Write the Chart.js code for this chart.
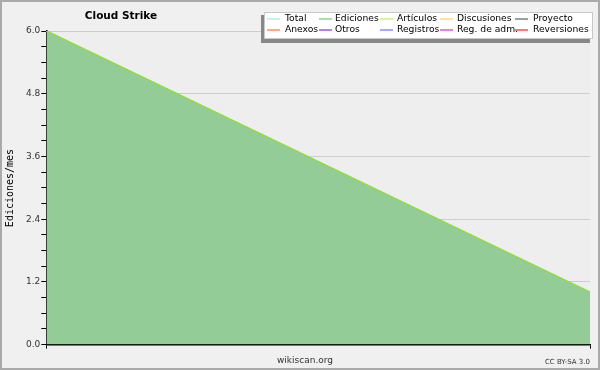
<!DOCTYPE html>
<html><head><meta charset="utf-8">
<script src="https://cdn.jsdelivr.net/npm/chart.js@4/dist/chart.umd.min.js"></script>
<style>html,body{margin:0;padding:0;background:#f0f0f0}#wrap{position:relative;width:600px;height:370px}</style>
</head><body><div id="wrap"><canvas id="c" width="600" height="370"></canvas></div>
<script>
const categories = ["2024-07", "2024-08"];
const edicionesValues = [6.0, 1.0];
const articulosValues = [6.0, 1.0];
const yTickLabels = [0.0, 1.2, 2.4, 3.6, 4.8, 6.0];
const legendNames = ["Total","Ediciones","Artículos","Discusiones","Proyecto","Anexos","Otros","Registros","Reg. de adm.","Reversiones"];
const legendColors = ["#a0e8e8","#70c878","#c0f040","#ffd060","#606060","#ff7030","#8030e0","#7070ff","#d030e0","#ff2020"];

const deco = {
  id:'deco',
  beforeDraw(chart){
    const ctx=chart.ctx, a=chart.chartArea;
    ctx.save();
    ctx.fillStyle='#f0f0f0'; ctx.fillRect(0,0,600,370);
    ctx.strokeStyle='#aaaaaa'; ctx.lineWidth=2; ctx.strokeRect(1,1,598,368);
    ctx.fillStyle='#eeeeef'; ctx.fillRect(a.left,a.top,a.right-a.left,a.bottom-a.top);
    ctx.restore();
  },
  afterDraw(chart){
    const ctx=chart.ctx;
    ctx.save();
    ctx.fillStyle='#000'; ctx.textAlign='center'; ctx.textBaseline='middle';
    ctx.font='bold 10.5px "DejaVu Sans"';
    ctx.fillText('Cloud Strike',121,16);
    ctx.font='10px "DejaVu Sans Mono"';
    ctx.translate(10,188); ctx.rotate(-Math.PI/2); ctx.fillText('Ediciones/mes',0,0);
    ctx.restore();
    ctx.save();
    ctx.fillStyle='#333'; ctx.textBaseline='middle';
    ctx.font='9px "DejaVu Sans"'; ctx.textAlign='center';
    ctx.fillText('wikiscan.org',305,361);
    ctx.font='7px "DejaVu Sans"'; ctx.textAlign='right';
    ctx.fillText('CC BY-SA 3.0',590,362);
    // legend
    ctx.fillStyle='#888888'; ctx.fillRect(261,15,329,28);
    ctx.fillStyle='#ffffff'; ctx.fillRect(264,12,329,27);
    ctx.strokeStyle='#c8c8c8'; ctx.lineWidth=1; ctx.strokeRect(264.5,12.5,328,26);
    const lineX=[267,319,380,440,515], textX=[285,335,397,457,533], rowY=[19,30];
    ctx.font='9.2px "DejaVu Sans"'; ctx.textAlign='left'; ctx.fillStyle='#000';
    legendNames.forEach((n,i)=>{
      const col=i%5,row=Math.floor(i/5);
      ctx.strokeStyle=legendColors[i]; ctx.lineWidth=1.2;
      ctx.beginPath(); ctx.moveTo(lineX[col],rowY[row]); ctx.lineTo(lineX[col]+13,rowY[row]); ctx.stroke();
      ctx.fillStyle='#000'; ctx.fillText(n,textX[col],rowY[row]);
    });
    ctx.restore();
  }
};

new Chart(document.getElementById('c'),{
  type:'line',
  data:{labels:categories,datasets:[
    {label:'Ediciones',data:edicionesValues,fill:'origin',backgroundColor:'#94cc98',borderColor:'#94cc98',borderWidth:0,pointRadius:0,tension:0},
    {label:'Artículos',data:articulosValues,fill:false,borderColor:'#80ee00',borderWidth:1.8,pointRadius:0,tension:0}
  ]},
  plugins:[deco],
  options:{
    responsive:false,animation:false,
    layout:{padding:{left:25,top:31,right:10,bottom:7}},
    plugins:{legend:{display:false},tooltip:{enabled:false},title:{display:false}},
    scales:{
      x:{offset:false,ticks:{display:true,callback:()=>'',padding:0},
         grid:{drawOnChartArea:false,drawTicks:true,tickLength:4,tickColor:'#000'},
         border:{color:'#000',width:1.5}},
      y:{min:0,max:6,afterBuildTicks(s){const t=[];for(let i=0;i<=20;i++)t.push({value:+(i*0.3).toFixed(1)});s.ticks=t;},
         ticks:{autoSkip:false,padding:1,color:'#333',font:{family:'DejaVu Sans',size:9},
           callback:(v)=>{const m=yTickLabels.find(x=>Math.abs(x-v)<1e-6);return m===undefined?'':m.toFixed(1);}},
         grid:{color:(c)=>{const v=c.tick&&c.tick.value;return yTickLabels.some(x=>Math.abs(x-v)<1e-6)&&v!==0?'#cccccc':'rgba(0,0,0,0)';},
           tickColor:'#000',tickLength:5},
         border:{color:'#000',width:1.5}}
    }
  }
});
</script></body></html>
